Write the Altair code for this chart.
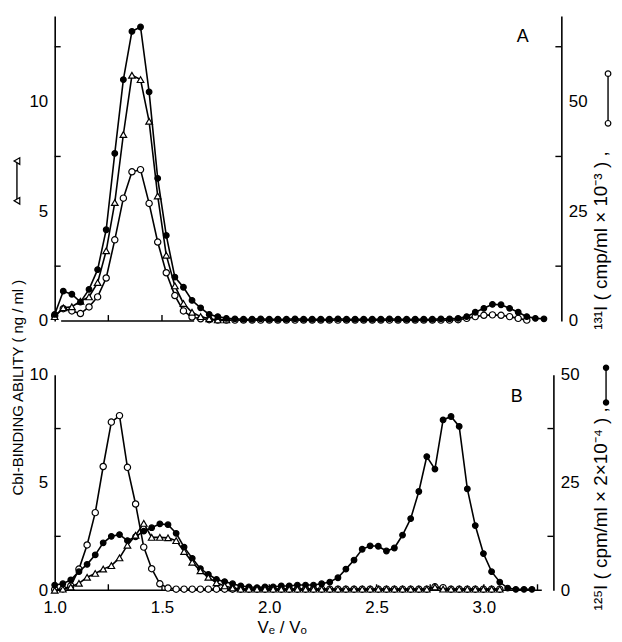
import altair as alt
import pandas as pd

FONT = "Liberation Sans"

# fraction positions (Ve/Vo)
xa = [1.00, 1.04, 1.08, 1.12, 1.16, 1.20, 1.24, 1.28, 1.32, 1.36,
      1.40, 1.44, 1.48, 1.52, 1.56, 1.60, 1.64, 1.68, 1.72, 1.76,
      1.80, 1.84, 1.88, 1.92, 1.96, 2.00, 2.04, 2.08, 2.12, 2.16,
      2.20, 2.24, 2.28, 2.32, 2.36, 2.40, 2.44, 2.48, 2.52, 2.56,
      2.60, 2.64, 2.68, 2.72, 2.76, 2.80, 2.84, 2.88, 2.92, 2.96,
      3.00, 3.04, 3.08, 3.12, 3.16, 3.20, 3.24, 3.28]
xb = [1.000, 1.038, 1.075, 1.113, 1.151, 1.189, 1.226, 1.264, 1.302, 1.339,
      1.377, 1.415, 1.452, 1.490, 1.528, 1.566, 1.603, 1.641, 1.679, 1.716,
      1.754, 1.792, 1.829, 1.867, 1.905, 1.943, 1.980, 2.018, 2.056, 2.093,
      2.131, 2.169, 2.206, 2.244, 2.282, 2.320, 2.357, 2.395, 2.433, 2.470,
      2.508, 2.546, 2.583, 2.621, 2.659, 2.697, 2.734, 2.772, 2.810, 2.847,
      2.885, 2.923, 2.960, 2.998, 3.036, 3.074, 3.111, 3.149, 3.187, 3.224]

# panel A
# CbI-binding ability (ng/ml), left axis
a_tri = [0.2, 0.6, 0.65, 0.9, 1.1, 1.75, 3.2, 5.4, 8.5, 11.2,
         11.0, 9.1, 5.7, 3.0, 1.6, 0.8, 0.4, 0.2, 0.1, 0.05, 0.05]
# 131I open circles, right axis units
a_open = [1.2, 2.8, 2.3, 1.7, 3.2, 5.5, 9.8, 18.5, 28.0, 34.0,
          34.5, 26.8, 18.0, 11.0, 5.8, 2.3, 0.9, 0.5, 0.3, 0.2,
          0.2, 0.2, 0.2, 0.2, 0.2, 0.2, 0.2, 0.2, 0.2, 0.2,
          0.2, 0.2, 0.2, 0.2, 0.2, 0.2, 0.2, 0.2, 0.2, 0.2,
          0.2, 0.2, 0.2, 0.2, 0.2, 0.2, 0.2, 0.3, 0.6, 1.0,
          1.3, 1.4, 1.3, 1.0, 0.6, 0.2]
# filled circles, right axis units
a_dot = [1.5, 6.8, 6.1, 4.3, 7.2, 11.7, 20.8, 38.2, 55.0, 66.0,
         67.0, 52.2, 32.5, 19.5, 10.0, 7.7, 4.7, 3.0, 1.5, 1.0,
         0.6, 0.5, 0.4, 0.4, 0.5, 0.4, 0.4, 0.4, 0.5, 0.4,
         0.4, 0.4, 0.4, 0.5, 0.4, 0.4, 0.4, 0.4, 0.4, 0.5,
         0.4, 0.4, 0.4, 0.4, 0.4, 0.5, 0.5, 0.6, 1.0, 2.0,
         2.9, 3.8, 3.7, 2.9, 2.0, 1.0, 0.6, 0.5]

# panel B
b_tri = [0.0, 0.05, 0.15, 0.32, 0.6, 0.78, 0.98, 1.14, 1.5, 2.09,
         2.55, 3.1, 2.45, 2.45, 2.43, 2.3, 1.8, 1.3, 0.9, 0.6,
         0.35, 0.2, 0.1, 0.05, 0.05, 0.05, 0.05, 0.05, 0.05, 0.05,
         0.05, 0.05, 0.05, 0.05, 0.05, 0.05, 0.05, 0.05, 0.05, 0.05,
         0.05, 0.05, 0.05, 0.05, 0.05, 0.05, 0.05, 0.15, 0.05, 0.05,
         0.05, 0.05, 0.05, 0.05, 0.05, 0.05]
b_open = [0.2, 0.3, 1.0, 4.9, 10.5, 18.0, 28.7, 39.0, 40.5, 28.5,
          20.0, 10.0, 5.0, 1.5, 0.5, 0.25, 0.25, 0.25, 0.25, 0.25,
          0.25, 0.25, 0.25, 0.25, 0.25, 0.25, 0.25, 0.25, 0.25, 0.25,
          0.25, 0.25, 0.25, 0.25, 0.25, 0.25, 0.25, 0.25, 0.25, 0.25,
          0.25, 0.25, 0.25, 0.25, 0.25, 0.25, 0.25, 0.8, 0.6, 0.25,
          0.25, 0.25, 0.25, 0.25, 0.25, 0.25]
b_dot = [1.2, 1.5, 2.4, 4.3, 6.0, 8.2, 11.0, 12.5, 12.9, 11.5,
         12.4, 13.7, 14.5, 15.4, 15.2, 13.2, 10.0, 7.4, 5.0, 3.7,
         2.5, 2.0, 1.5, 1.0, 0.8, 0.6, 0.8, 0.8, 1.0, 1.0,
         1.2, 1.2, 1.2, 1.5, 1.9, 2.9, 4.9, 7.0, 9.5, 10.3,
         10.2, 9.1, 9.8, 12.8, 16.6, 22.9, 31.0, 28.1, 39.5, 40.3,
         38.0, 23.5, 15.0, 8.5, 4.3, 1.9, 0.5, 0.2, 0.2, 0.2]

# axis ticks / labels
a_left_labels = [0, 5, 10]
a_left_ticks = [2.5, 7.5, 12.5]
a_right_labels = [0, 25, 50]
a_right_ticks = [12.5, 37.5, 62.5]
b_left_labels = [0, 5, 10]
b_left_ticks = [2.5, 7.5]
b_right_labels = [0, 25, 50]
b_right_ticks = [12.5, 37.5]
a_xticks = [1.25, 1.5]
a_xspan = [1.03, 1.65]
b_xlabels = [1.0, 1.5, 2.0, 2.5, 3.0]
b_xticks = [1.25, 1.5, 1.75, 2.0, 2.25, 2.5, 2.75, 3.0, 3.25]
b_xspan = [1.0, 3.27]

W = 510          # plot width (px), 216 px per Ve/Vo unit
HA = 307         # panel A height
B_TOP, B_BOT = 361, 578   # panel B extent inside the single plot
WB = 502         # panel B right axis position

xenc = alt.X('x:Q', scale=alt.Scale(domain=[1.0, 1.0 + W / 216], nice=False, zero=False),
             axis=alt.Axis(values=b_xlabels, format='.1f', ticks=False, domain=False,
                           labelPadding=9, labelFlush=False, title=None, grid=False))


def yscale(dom, rng):
    return alt.Scale(domain=dom, range=rng, nice=False, zero=False)


#one curve: black line with markers on top
def series(xs, ys, dom, rng, shape, fill, size):
    df = pd.DataFrame({'x': xs[:len(ys)], 'y': ys})
    base = alt.Chart(df).encode(x=xenc, y=alt.Y('y:Q', scale=yscale(dom, rng), axis=None))
    line = base.mark_line(color='black', strokeWidth=1.6)
    pts = base.mark_point(shape=shape, filled=True, fill=fill, stroke='black',
                          strokeWidth=1.2, size=size, opacity=1)
    return [line, pts]


#vertical axis with inward ticks drawn as rules
def yaxis(ticks, labels, dom, rng, orient, xpos, offset=0):
    ax = alt.Axis(orient=orient, values=labels, ticks=False, domain=True, offset=offset,
                  domainColor='black', domainWidth=1.6, labelPadding=7,
                  format='d', title=None, grid=False)
    if orient == 'left':
        xs = (alt.value(xpos), alt.value(xpos + 6))
    else:
        xs = (alt.value(xpos - 6), alt.value(xpos))
    return alt.Chart(pd.DataFrame({'v': ticks})).mark_rule(color='black', strokeWidth=1.4).encode(
        y=alt.Y('v:Q', scale=yscale(dom, rng), axis=ax), x=xs[0], x2=xs[1])


#horizontal base line with upward ticks
def xbase(span, ticks, h):
    line = alt.Chart(pd.DataFrame({'x': [span[0]], 'x2': [span[1]]})).mark_rule(
        color='black', strokeWidth=1.6).encode(x=xenc, x2='x2:Q', y=alt.value(h))
    tk = alt.Chart(pd.DataFrame({'x': ticks})).mark_rule(color='black', strokeWidth=1.4).encode(
        x=xenc, y=alt.value(h), y2=alt.value(h - 6))
    return [line, tk]


def note(text, x, y, size=17, angle=0):
    return alt.Chart(pd.DataFrame({'t': [text]})).mark_text(
        font=FONT, fontSize=size, angle=angle, align='center', baseline='middle',
        color='black').encode(x=alt.value(x), y=alt.value(y), text='t:N')


def glyph(x, y0, y1, shape, fill, size):
    d = pd.DataFrame({'a': [0]})
    rule = alt.Chart(d).mark_rule(color='black', strokeWidth=1.4).encode(
        x=alt.value(x), y=alt.value(y0), y2=alt.value(y1))
    out = [rule]
    for yy in (y0, y1):
        out.append(alt.Chart(d).mark_point(shape=shape, filled=True, fill=fill, stroke='black',
                                           strokeWidth=1.2, size=size, opacity=1).encode(
            x=alt.value(x), y=alt.value(yy)))
    return out


RA = [HA, 0]
RB = [B_BOT, B_TOP]
DA_L, DA_R = [0, 13.9], [0, 69.5]
DB_L, DB_R = [0, 10], [0, 50]

layers = [yaxis(a_left_ticks, a_left_labels, DA_L, RA, 'left', 0),
          yaxis(a_right_ticks, a_right_labels, DA_R, RA, 'right', W),
          yaxis(b_left_ticks, b_left_labels, DB_L, RB, 'left', 0),
          yaxis(b_right_ticks, b_right_labels, DB_R, RB, 'right', WB, offset=WB - W)]
layers += xbase(a_xspan, a_xticks, HA)
layers += xbase(b_xspan, b_xticks, B_BOT)

# panel A curves
layers += series(xa, a_open, DA_R, RA, 'circle', 'white', 40)
layers += series(xa, a_tri, DA_L, RA, 'triangle-up', 'white', 44)
layers += series(xa, a_dot, DA_R, RA, 'circle', 'black', 32)
# panel B curves
layers += series(xb, b_open, DB_R, RB, 'circle', 'white', 40)
layers += series(xb, b_dot, DB_R, RB, 'circle', 'black', 32)
layers += series(xb, b_tri, DB_L, RB, 'triangle-up', 'white', 44)

layers += [note('A', 471, 21, size=18),
           note('B', 465, B_TOP + 23, size=18),
           note('CbI-BINDING  ABILITY  ( ng / ml )', -37, 374, size=15, angle=270),
           note('¹³¹I   ( cmp/ml  ×  10⁻³ ) ,', 550, 226, size=19, angle=270),
           note('¹²⁵I   ( cpm/ml  ×  2×10⁻⁴ ) ,', 550, B_TOP + 135, size=19, angle=270),
           note('Vₑ / Vₒ', 229, B_BOT + 38)]
layers += glyph(-38, 146, 186, 'triangle-left', 'white', 44)
layers += glyph(557, 58, 108, 'circle', 'white', 32)
layers += glyph(555, B_TOP - 7, B_TOP + 28, 'circle', 'black', 28)

chart = alt.layer(*layers).resolve_scale(y='independent').properties(
    width=W, height=B_BOT,
    padding={'left': 3, 'top': 6, 'right': 0, 'bottom': 0}
).configure_view(stroke=None).configure_axis(
    labelFont=FONT, labelFontSize=17, labelColor='black', domainColor='black', grid=False
)

chart.save("out.html", embed_options={"renderer": "svg", "actions": False})
